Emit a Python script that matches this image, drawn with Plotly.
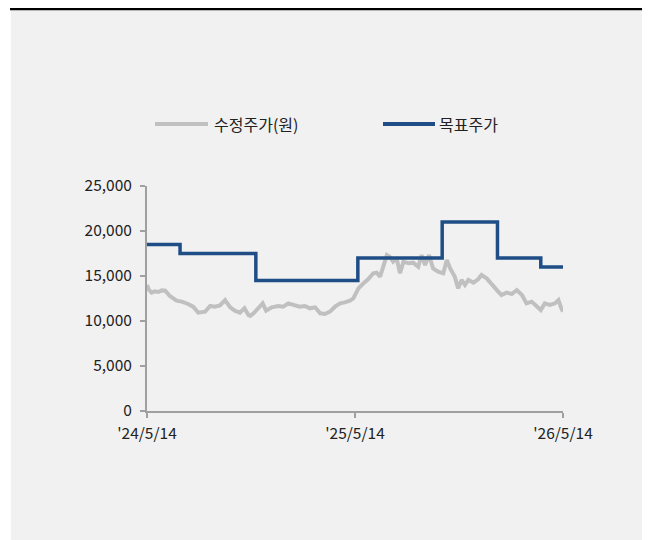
import plotly.graph_objects as go

# ---- data ----
price_dates = [
    "2024-05-14", "2024-05-17", "2024-05-22", "2024-05-28", "2024-06-03", "2024-06-09",
    "2024-06-15", "2024-06-23", "2024-07-05", "2024-07-14", "2024-07-25", "2024-08-03",
    "2024-08-12", "2024-08-24", "2024-09-02", "2024-09-10", "2024-09-19", "2024-09-28",
    "2024-10-07", "2024-10-15", "2024-10-24", "2024-11-01", "2024-11-08", "2024-11-11",
    "2024-11-17", "2024-11-20", "2024-11-28", "2024-12-03", "2024-12-09", "2024-12-19",
    "2024-12-30", "2025-01-08", "2025-01-17", "2025-01-29", "2025-02-06", "2025-02-15",
    "2025-02-24", "2025-03-05", "2025-03-14", "2025-03-22", "2025-03-31", "2025-04-09",
    "2025-04-18", "2025-04-26", "2025-05-05", "2025-05-11", "2025-05-14", "2025-05-20",
    "2025-05-29", "2025-06-06", "2025-06-15", "2025-06-21", "2025-06-27", "2025-07-03",
    "2025-07-09", "2025-07-14", "2025-07-20", "2025-07-26", "2025-08-01", "2025-08-07",
    "2025-08-16", "2025-08-24", "2025-09-02", "2025-09-08", "2025-09-14", "2025-09-21",
    "2025-09-28", "2025-10-07", "2025-10-16", "2025-10-22", "2025-10-28", "2025-11-05",
    "2025-11-11", "2025-11-17", "2025-11-23", "2025-11-29", "2025-12-08", "2025-12-16",
    "2025-12-22", "2025-12-31", "2026-01-09", "2026-01-18", "2026-01-26", "2026-02-04",
    "2026-02-13", "2026-02-22", "2026-03-03", "2026-03-11", "2026-03-20", "2026-03-29",
    "2026-04-05", "2026-04-12", "2026-04-21", "2026-04-30", "2026-05-06", "2026-05-11",
    "2026-05-14",
]
price_values = [
    14000, 13500, 13150, 13300, 13220, 13400,
    13370, 12780, 12260, 12150, 11890, 11590,
    10920, 11040, 11670, 11590, 11740, 12330,
    11520, 11150, 10920, 11410, 10670, 10560,
    10850, 11040, 11520, 11960, 11150, 11520,
    11670, 11590, 11960, 11780, 11590, 11670,
    11410, 11520, 10850, 10780, 11040, 11590,
    11960, 12070, 12260, 12520, 12890, 13630,
    14190, 14630, 15300, 15370, 14930, 16220,
    17330, 17150, 16590, 16960, 15300, 16590,
    16410, 16480, 16030, 17330, 16220, 17330,
    15850, 15480, 15300, 16780, 15850, 14930,
    13630, 14560, 14000, 14560, 14260, 14630,
    15110, 14740, 14000, 13440, 12890, 13150,
    13000, 13440, 12890, 11960, 12150, 11590,
    11220, 11960, 11780, 11960, 12330, 11410,
    11040,
]

target_dates = ["2024-05-14", "2024-07-11", "2024-11-21", "2025-05-19",
                "2025-10-14", "2026-01-19", "2026-04-05", "2026-05-14"]
target_values = [18500, 17500, 14500, 17000, 21000, 17000, 16000, 16000]

series_names = ["수정주가(원)", "목표주가"]
y_ticks = [0, 5000, 10000, 15000, 20000, 25000]
x_ticks = ["2024-05-14", "2025-05-14", "2026-05-14"]
x_tick_labels = ["'24/5/14", "'25/5/14", "'26/5/14"]

GREY = "#c0c0c0"
BLUE = "#1f4e87"
FONT = "Noto Sans CJK KR"
OFF = 8  # page body margin

fig = go.Figure()
fig.add_trace(go.Scatter(x=price_dates, y=price_values, mode="lines",
                         name=series_names[0], showlegend=False,
                         line=dict(color=GREY, width=4)))
fig.add_trace(go.Scatter(x=target_dates, y=target_values, mode="lines",
                         name=series_names[1], showlegend=False,
                         line=dict(color=BLUE, width=3.5, shape="hv")))

# plot area in screen pixels: x 147..563, y 186..411 (figure placed at +8,+8)
L, R, T, B = 147 - OFF, 563 - OFF, 186 - OFF, 411 - OFF
W, H = R - L, B - T


def px(x):
    return (x - OFF - L) / W


def py(y):
    return (B - (y - OFF)) / H


shapes = [
    dict(type="rect", xref="paper", yref="paper", x0=px(11), x1=px(646),
         y0=py(560), y1=py(10), fillcolor="#f1f1f1", line=dict(width=0), layer="below"),
    dict(type="line", xref="paper", yref="paper", x0=px(10), x1=px(660),
         y0=py(9), y1=py(9), line=dict(color="#000000", width=2.5)),
    # legend samples
    dict(type="line", xref="paper", yref="paper", x0=px(155), x1=px(208),
         y0=py(124), y1=py(124), line=dict(color=GREY, width=4)),
    dict(type="line", xref="paper", yref="paper", x0=px(383), x1=px(435),
         y0=py(124), y1=py(124), line=dict(color=BLUE, width=4)),
]
annotations = [
    dict(xref="paper", yref="paper", x=px(212), y=py(124), text=series_names[0],
         showarrow=False, xanchor="left", yanchor="middle",
         font=dict(family=FONT, size=16, color="#222222")),
    dict(xref="paper", yref="paper", x=px(437), y=py(124), text=series_names[1],
         showarrow=False, xanchor="left", yanchor="middle",
         font=dict(family=FONT, size=16, color="#222222")),
]

fig.update_layout(
    width=650, height=540,
    margin=dict(l=L, r=650 - R, t=T, b=540 - B, pad=0),
    paper_bgcolor="#ffffff",
    plot_bgcolor="#f1f1f1",
    font=dict(family=FONT, size=15, color="#222222"),
    shapes=shapes,
    annotations=annotations,
    showlegend=False,
    xaxis=dict(
        range=["2024-05-14", "2026-05-14"],
        tickmode="array", tickvals=x_ticks, ticktext=x_tick_labels,
        showgrid=False, zeroline=False,
        showline=True, linecolor="#a0a0a0", linewidth=2,
        ticks="outside", ticklen=5, tickcolor="#a0a0a0", tickwidth=2,
        ticklabelstandoff=2,
        tickfont=dict(family=FONT, size=15.5, color="#222222"),
    ),
    yaxis=dict(
        range=[0, 25000],
        tickmode="array", tickvals=y_ticks, tickformat=",",
        showgrid=False, zeroline=False,
        showline=True, linecolor="#a0a0a0", linewidth=2,
        ticks="outside", ticklen=5, tickcolor="#a0a0a0", tickwidth=2,
        ticklabelstandoff=5,
        tickfont=dict(family=FONT, size=15.5, color="#222222"),
    ),
)

fig.write_html("out.html")
